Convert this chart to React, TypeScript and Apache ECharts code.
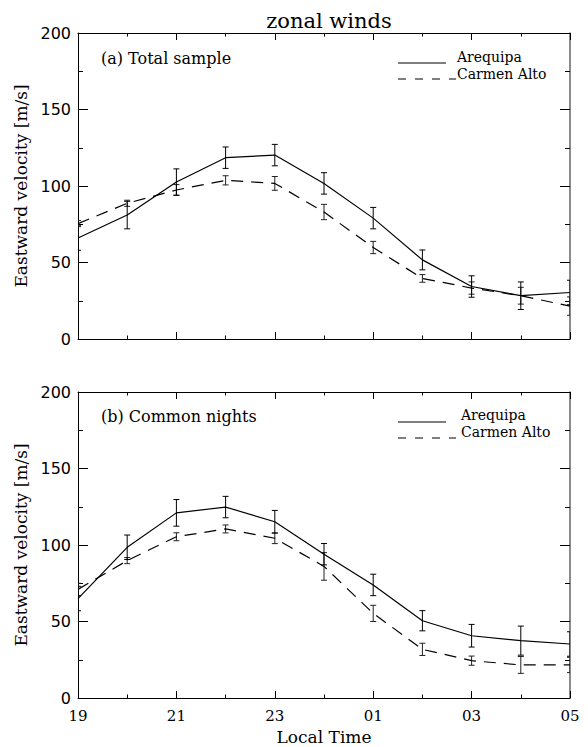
import React, { useEffect, useRef } from "react";
import * as echarts from "echarts";

// Hours after 19 LT (0 = 19, 10 = 05)
const hourOffsets = [0, 1, 2, 3, 4, 5, 6, 7, 8, 9, 10];
const xTickLabels = ["19", "21", "23", "01", "03", "05"];

// (a) Total sample
const arequipaTotal = [66, 81, 102.6, 118.5, 120.2, 101.7, 79, 51.7, 34.3, 28.3, 30.4];
const arequipaTotalErr = [8, 9, 8.6, 7, 7, 7, 7, 6.5, 7, 9, 8];
const carmenTotal = [75.4, 88.7, 97.4, 103.7, 101.7, 83, 59.8, 39.6, 33.3, 28.3, 21.5];
const carmenTotalErr = [2, 2, 3.5, 3, 4.5, 5, 4, 2.5, 4, 5.5, 6];

// (b) Common nights
const arequipaCommon = [65, 98.5, 121, 124.8, 115.2, 94, 73.9, 50.5, 40.7, 37.5, 35.3];
const arequipaCommonErr = [8, 8, 8.7, 7, 7.4, 7, 7, 6.6, 7.4, 9.5, 8];
const carmenCommon = [71, 89.8, 105.4, 110.5, 104.4, 86, 55.3, 31.8, 24.4, 21.6, 21.6];
const carmenCommonErr = [4, 2, 2.6, 2.6, 3.5, 9, 5.3, 4, 3, 5.5, 5];

const seriesNames = ["Arequipa", "Carmen Alto"];
const panelLabels = ["(a) Total sample", "(b) Common nights"];

const SERIF = "DejaVu Serif";
const SANS = "DejaVu Sans";
const DASH = [12, 8];
const LEGEND_DASH = [8, 9];

function pairs(v: number[]) {
  return hourOffsets.map((h, i) => [h, v[i]]);
}
function errData(v: number[], e: number[]) {
  return hourOffsets.map((h, i) => [h, v[i] - e[i], v[i] + e[i]]);
}

function errRender(color: string) {
  return (params: any, api: any) => {
    const x = api.value(0);
    const lo = api.coord([x, api.value(1)]);
    const hi = api.coord([x, api.value(2)]);
    const w = 3;
    const st = { stroke: color, lineWidth: 1 };
    return {
      type: "group",
      children: [
        { type: "line", shape: { x1: lo[0], y1: lo[1], x2: hi[0], y2: hi[1] }, style: st },
        { type: "line", shape: { x1: lo[0] - w, y1: lo[1], x2: lo[0] + w, y2: lo[1] }, style: st },
        { type: "line", shape: { x1: hi[0] - w, y1: hi[1], x2: hi[0] + w, y2: hi[1] }, style: st },
      ],
    };
  };
}

function xAxes(gridIndex: number, showLabels: boolean) {
  const base: any = {
    type: "value",
    gridIndex,
    min: 0,
    max: 10,
    interval: 2,
    splitLine: { show: false },
    minorSplitLine: { show: false },
    axisLine: { show: true, onZero: false, lineStyle: { color: "#000", width: 1 } },
    axisTick: { show: true, inside: true, length: 7, lineStyle: { color: "#000" } },
    minorTick: { show: true, splitNumber: 2, length: 3.5, lineStyle: { color: "#000" } },
  };
  return [
    {
      ...base,
      position: "bottom",
      axisLabel: {
        show: showLabels,
        margin: 10,
        color: "#000",
        fontFamily: SERIF,
        fontSize: 15,
        formatter: (v: number) => xTickLabels[Math.round(v / 2)] ?? "",
      },
      name: showLabels ? "Local Time" : "",
      nameLocation: "middle",
      nameGap: 30,
      nameTextStyle: { color: "#000", fontFamily: SERIF, fontSize: 17 },
    },
    { ...base, position: "top", axisLabel: { show: false } },
  ];
}

function yAxes(gridIndex: number) {
  const base: any = {
    type: "value",
    gridIndex,
    min: 0,
    max: 200,
    interval: 50,
    splitLine: { show: false },
    minorSplitLine: { show: false },
    axisTick: { show: true, inside: true, length: 10, lineStyle: { color: "#000" } },
    minorTick: { show: true, splitNumber: 2, length: 5, lineStyle: { color: "#000" } },
  };
  return [
    {
      ...base,
      position: "left",
      axisLine: { show: true, onZero: false, lineStyle: { color: "#000", width: 1 } },
      axisLabel: { show: true, margin: 7, color: "#000", fontFamily: SANS, fontSize: 16 },
      name: "Eastward velocity [m/s]",
      nameLocation: "middle",
      nameGap: 47,
      nameTextStyle: { color: "#000", fontFamily: SERIF, fontSize: 17 },
    },
    {
      ...base,
      position: "right",
      axisLine: { show: true, onZero: false, lineStyle: { color: "#666", width: 1.5 } },
      axisLabel: { show: false },
    },
  ];
}

function panelSeries(axisIdx: number, areq: number[], areqErr: number[], carm: number[], carmErr: number[]) {
  const common = { xAxisIndex: axisIdx, yAxisIndex: axisIdx };
  return [
    {
      ...common,
      type: "custom",
      name: seriesNames[1] + " err",
      clip: true,
      renderItem: errRender("#222"),
      encode: { x: 0, y: [1, 2] },
      data: errData(carm, carmErr),
      silent: true,
    },
    {
      ...common,
      type: "custom",
      name: seriesNames[0] + " err",
      clip: true,
      renderItem: errRender("#000"),
      encode: { x: 0, y: [1, 2] },
      data: errData(areq, areqErr),
      silent: true,
    },
    {
      ...common,
      type: "line",
      name: seriesNames[0],
      data: pairs(areq),
      symbol: "none",
      lineStyle: { color: "#000", width: 1.2, type: "solid" },
    },
    {
      ...common,
      type: "line",
      name: seriesNames[1],
      data: pairs(carm),
      symbol: "none",
      lineStyle: { color: "#000", width: 1.2, type: DASH },
    },
  ];
}

function legendGraphics(textTop: number, line1: number, line2: number, textX: number, label: string) {
  const tStyle = (text: string, size: number) => ({
    text,
    font: `${size}px "${SERIF}"`,
    fill: "#000",
  });
  return [
    { type: "text", left: 101, top: textTop - 10, style: tStyle(label, 16) },
    { type: "line", shape: { x1: 398, y1: line1, x2: 446, y2: line1 }, style: { stroke: "#000", lineWidth: 1.2 } },
    {
      type: "line",
      shape: { x1: 398, y1: line2, x2: 456, y2: line2 },
      style: { stroke: "#000", lineWidth: 1.2, lineDash: LEGEND_DASH },
    },
    { type: "text", left: textX, top: textTop - 10, style: tStyle(seriesNames[0], 14) },
    { type: "text", left: textX, top: textTop + 7, style: tStyle(seriesNames[1], 14) },
  ];
}

export default function App() {
  const ref = useRef<HTMLDivElement>(null);
  useEffect(() => {
    if (!ref.current) return;
    const chart = echarts.init(ref.current, undefined, { renderer: "svg" });
    chart.setOption({
      animation: false,
      backgroundColor: "#fff",
      title: {
        text: "zonal winds",
        left: 324,
        top: 5,
        textAlign: "center",
        textStyle: { color: "#000", fontFamily: SERIF, fontSize: 21, fontWeight: "normal" },
      },
      grid: [
        { left: 78, right: 18, top: 33, height: 306 },
        { left: 78, right: 18, top: 392, height: 306 },
      ],
      xAxis: [...xAxes(0, false), ...xAxes(1, true)],
      yAxis: [...yAxes(0), ...yAxes(1)],
      series: [
        ...panelSeries(0, arequipaTotal, arequipaTotalErr, carmenTotal, carmenTotalErr),
        ...panelSeries(2, arequipaCommon, arequipaCommonErr, carmenCommon, carmenCommonErr),
      ],
      graphic: [
        ...legendGraphics(60, 63, 79, 457, panelLabels[0]),
        ...legendGraphics(418, 422, 438, 461, panelLabels[1]),
      ],
    });
    return () => chart.dispose();
  }, []);
  return (
    <div
      ref={ref}
      style={{ position: "fixed", left: 0, top: 0, width: 588, height: 747, background: "#fff" }}
    />
  );
}
